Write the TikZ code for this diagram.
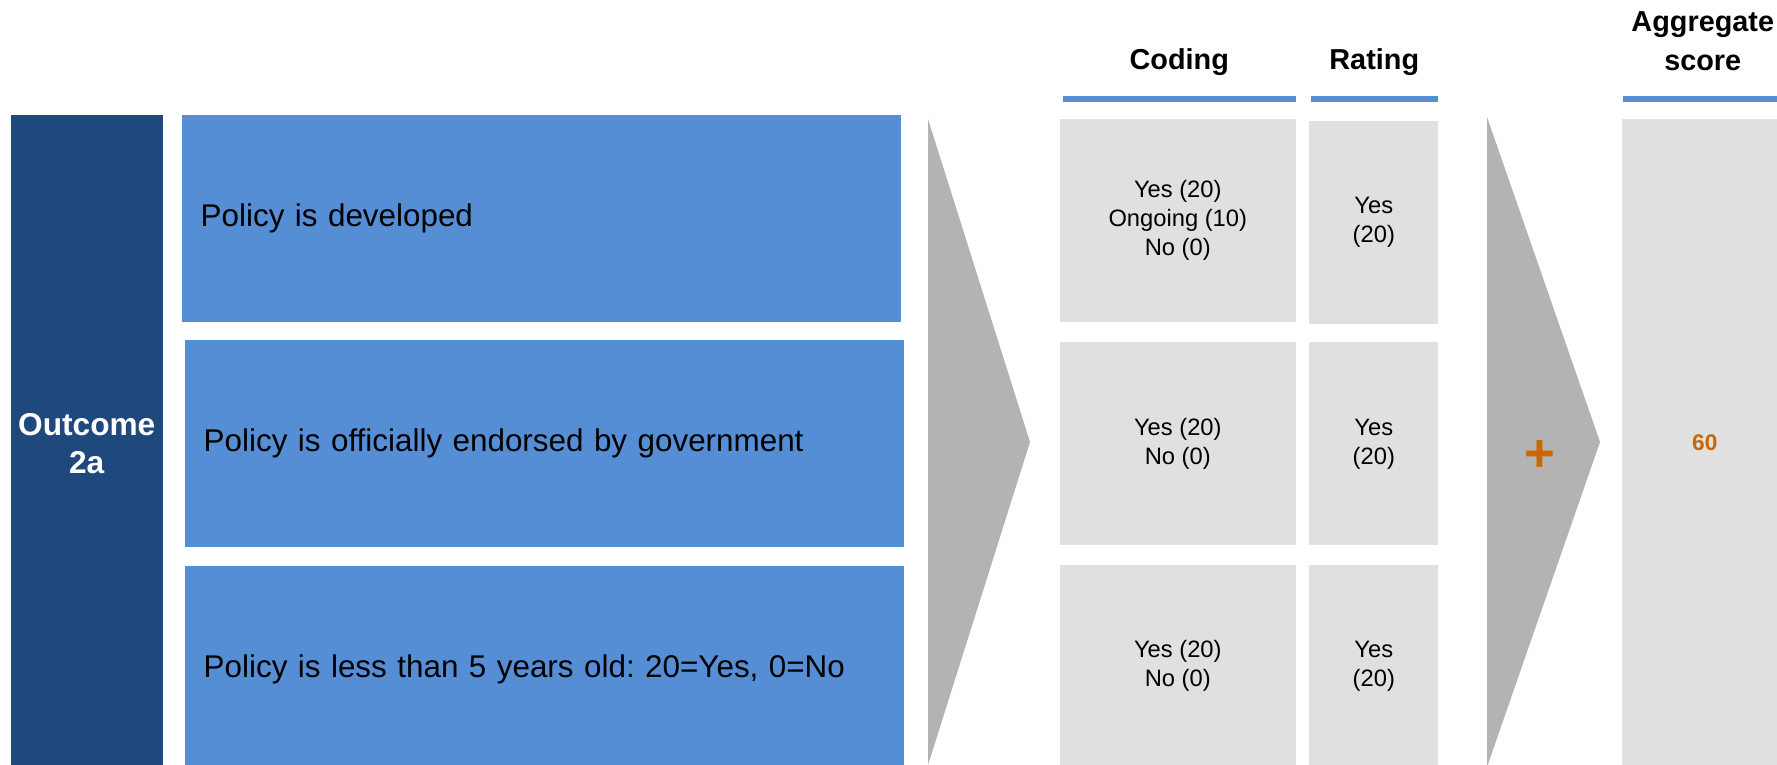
\documentclass[tikz,border=0pt]{standalone}
\usepackage{fontspec}
\setmainfont{Liberation Sans}
\usetikzlibrary{positioning}
\definecolor{navy}{HTML}{1F497D}
\definecolor{critblue}{HTML}{558ED5}
\definecolor{cellgrey}{HTML}{E0E0E0}
\definecolor{chevgrey}{HTML}{B3B3B3}
\definecolor{scoreorange}{HTML}{CC6600}
\frenchspacing
\begin{document}
\begin{tikzpicture}[x=0.01cm,y=-0.01cm,
  crit/.style={fill=critblue,anchor=north west,inner xsep=0.19cm,text width=6.81cm,
    minimum height=2.07cm,align=left,font=\fontsize{8.93}{11}\selectfont},
  cell/.style={fill=cellgrey,inner sep=0pt,minimum height=2.03cm,align=center,
    font=\fontsize{6.75}{8.25}\selectfont},
  bar/.style={fill=critblue,anchor=north west,inner sep=0pt,minimum height=0.06cm},
  head/.style={inner sep=0pt,align=center,font=\fontsize{8.2}{11.2}\selectfont\bfseries}]
\useasboundingbox (0,0) rectangle (1777,764);
\clip (0,0) rectangle (1777,764);
% outcome and its three criteria
\node[fill=navy,anchor=north west,minimum width=1.52cm,minimum height=6.58cm,inner sep=0pt,
  text=white,align=center,font=\fontsize{9}{10.8}\selectfont\bfseries] (outc) at (10,114) {Outcome\\2a};
\node[crit] (crit1) at (181,114) {Policy is developed};
\node[crit,below=0.17cm of crit1.south west,anchor=north west,xshift=0.03cm] (crit2) {Policy is officially endorsed by government};
\node[crit,below=0.17cm of crit2.south west,anchor=north west] (crit3) {Policy is less than 5 years old: 20=Yes, 0=No};
% chevrons
\fill[chevgrey] (928,119) -- (1030,442) -- (928,765) -- cycle;
\fill[chevgrey] (1487,117) -- (1600,442) -- (1487,767) -- cycle;
% coding and rating
\node[bar,minimum width=2.33cm] (cbar) at (1062,95) {};
\node[bar,minimum width=1.27cm] (rbar) at (1310,95) {};
\node[bar,minimum width=1.6cm] (abar) at (1622,95) {};
\node[head,above=0.19cm of cbar.north] (chead) {Coding};
\node[head,above=0.19cm of rbar.north] (rhead) {Rating};
\node[head,above=0.235cm of abar.north] (ahead) {Aggregate\\score};
\node[cell,anchor=north west,minimum width=2.36cm] (code1) at (1059,118) {Yes (20)\\Ongoing (10)\\No (0)};
\node[cell,below=0.19cm of code1,minimum width=2.36cm] (code2) {Yes (20)\\No (0)};
\node[cell,below=0.18cm of code2,minimum width=2.36cm] (code3) {Yes (20)\\No (0)};
\node[cell,right=0.12cm of code1,yshift=-0.02cm,minimum width=1.29cm] (rate1) {Yes\\(20)};
\node[cell,right=0.12cm of code2,minimum width=1.29cm] (rate2) {Yes\\(20)};
\node[cell,right=0.12cm of code3,minimum width=1.29cm] (rate3) {Yes\\(20)};
% sum
\node[text=scoreorange,inner sep=0pt,font=\fontsize{15}{15}\selectfont\bfseries] (plus) at (1540,456) {+};
\node[fill=cellgrey,anchor=north west,minimum width=1.66cm,minimum height=6.48cm,inner sep=0pt,
  text=scoreorange,font=\fontsize{6.45}{8}\selectfont\bfseries] (total) at (1621,118) {60};
\end{tikzpicture}
\end{document}
